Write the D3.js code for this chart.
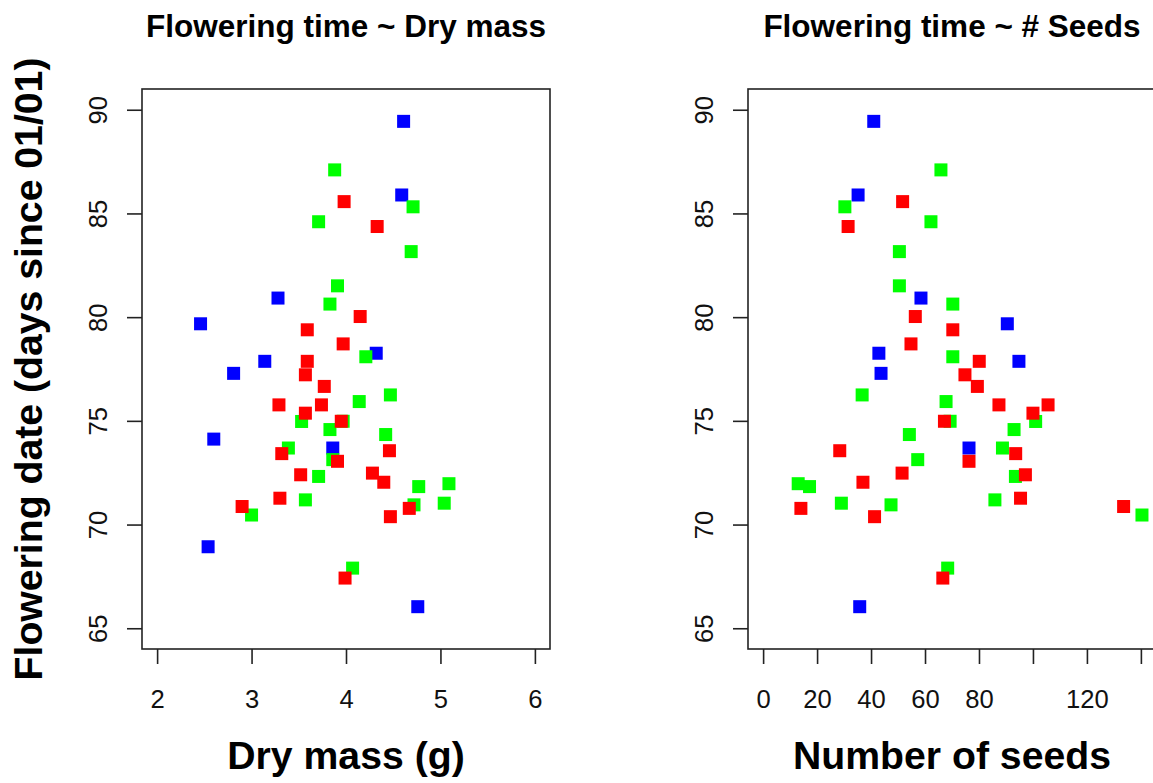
<!DOCTYPE html>
<html>
<head>
<meta charset="utf-8">
<script src="https://cdn.jsdelivr.net/npm/d3@7"></script>
<style>
  body { margin: 0; background: #fff; }
  svg { display: block; font-family: "Liberation Sans", Arial, sans-serif; }
</style>
</head>
<body>
<div id="chart"></div>
<script>
// Data (one entry per plant)
const groups = [
    'blue', 'blue', 'blue', 'blue', 'blue', 'blue', 'blue', 'blue', 'blue', 'blue', 'blue',
    'green', 'green', 'green', 'green', 'green', 'green', 'green', 'green', 'green', 'green', 'green', 'green',
    'green', 'green', 'green', 'green', 'green', 'green', 'green', 'green', 'green', 'green', 'green',
    'red', 'red', 'red', 'red', 'red', 'red', 'red', 'red', 'red', 'red', 'red', 'red',
    'red', 'red', 'red', 'red', 'red', 'red', 'red', 'red', 'red', 'red', 'red'
];
const dryMass = [
    4.61, 4.59, 3.28, 2.46, 4.32, 3.14, 2.81, 2.60, 3.86, 2.54, 4.76,
    3.88, 4.71, 3.71, 4.69, 3.91, 3.83, 4.21, 4.47, 4.14, 3.53, 3.97, 3.83,
    4.42, 3.39, 3.86, 3.71, 4.77, 5.09, 3.57, 4.72, 5.04, 3.00, 4.07,
    3.98, 4.33, 4.15, 3.59, 3.97, 3.59, 3.57, 3.77, 3.29, 3.74, 3.57, 3.95,
    3.32, 3.91, 4.46, 3.52, 4.28, 4.40, 3.30, 2.90, 4.67, 4.47, 3.99
];
// two blue plants lie beyond the visible right edge of the seeds panel
const seeds = [
    41.0, 35.2, 58.5, 90.5, 42.9, 94.8, 43.7, 150, 76.3, 155, 35.8,
    65.9, 30.3, 62.2, 50.5, 50.5, 70.3, 70.3, 36.7, 67.8, 101.0, 69.3, 93.0,
    54.2, 88.7, 57.3, 93.5, 17.2, 13.0, 85.9, 47.4, 29.0, 140.4, 68.4,
    51.7, 31.5, 56.4, 70.3, 54.8, 80.1, 74.8, 79.4, 87.4, 105.6, 100.0, 67.2,
    93.6, 76.3, 28.4, 97.2, 51.5, 37.0, 95.4, 133.6, 14.0, 41.3, 66.6
];
const floweringDate = [
    89.44, 85.89, 80.92, 79.68, 78.26, 77.87, 77.29, 74.12, 73.69, 68.93, 66.04,
    87.10, 85.32, 84.60, 83.16, 81.51, 80.63, 78.09, 76.25, 75.93, 74.97, 74.98, 74.58,
    74.34, 73.69, 73.13, 72.32, 71.83, 71.97, 71.19, 70.95, 71.03, 70.46, 67.90,
    85.57, 84.37, 80.03, 79.39, 78.71, 77.87, 77.22, 76.66, 75.77, 75.77, 75.37, 74.98,
    73.42, 73.05, 73.56, 72.40, 72.48, 72.04, 71.27, 70.87, 70.78, 70.38, 67.42
];

const yTicks = [65, 70, 75, 80, 85, 90];
const massTicks = [2, 3, 4, 5, 6];
const massTickLabels = ['2', '3', '4', '5', '6'];
const seedTicks = [0, 20, 40, 60, 80, 100, 120, 140];
const seedTickLabels = ['0', '20', '40', '60', '80', '', '120', ''];

const W = 1153, H = 783;
const base = 25.6;

const svg = d3.select('#chart').append('svg')
    .attr('width', W)
    .attr('height', H);
svg.append('rect').attr('width', W).attr('height', H).attr('fill', '#fff');

const color = d3.scaleOrdinal()
    .domain(['blue', 'green', 'red'])
    .range(['#0000FF', '#00FF00', '#FF0000']);

const plotTop = 89, plotBottom = 649;
// R style axis range: limits extended by 4% on each side
const pad = (lo, hi) => [lo - 0.04 * (hi - lo), hi + 0.04 * (hi - lo)];

const y = d3.scaleLinear().domain(pad(65, 90)).range([plotBottom, plotTop]);

const points = floweringDate.map((f, i) => ({
    group: groups[i], mass: dryMass[i], seeds: seeds[i], date: f
}));

function panel(id, left, right, x, ticks, tickLabels, title, xlab, xkey) {
    const g = svg.append('g');
    const cx = (left + right) / 2;

    svg.append('clipPath').attr('id', id)
        .append('rect')
        .attr('x', left).attr('y', plotTop)
        .attr('width', right - left).attr('height', plotBottom - plotTop);

    // points
    g.append('g').attr('clip-path', `url(#${id})`)
        .selectAll('rect')
        .data(points)
        .join('rect')
        .attr('x', d => x(d[xkey]) - 6.5)
        .attr('y', d => y(d.date) - 6.5)
        .attr('width', 13)
        .attr('height', 13)
        .attr('fill', d => color(d.group));

    // box
    g.append('rect')
        .attr('x', left).attr('y', plotTop)
        .attr('width', right - left).attr('height', plotBottom - plotTop)
        .attr('fill', 'none').attr('stroke', '#222').attr('stroke-width', 1.6);

    // x axis
    const xa = g.append('g').attr('transform', `translate(0,${plotBottom})`)
        .call(d3.axisBottom(x).tickValues(ticks).tickSize(15).tickPadding(26)
            .tickFormat((d, i) => tickLabels[i]));
    xa.select('.domain').remove();
    xa.selectAll('line').attr('stroke', '#222').attr('stroke-width', 1.6);
    xa.selectAll('text').attr('font-size', base).attr('fill', '#111')
        .attr('font-family', '"Liberation Sans", Arial, sans-serif');

    // y axis, labels parallel to the axis like R's default
    const ya = g.append('g').attr('transform', `translate(${left},0)`)
        .call(d3.axisLeft(y).tickValues(yTicks).tickSize(15));
    ya.select('.domain').remove();
    ya.selectAll('line').attr('stroke', '#222').attr('stroke-width', 1.6);
    ya.selectAll('text')
        .attr('x', null).attr('dy', null)
        .attr('text-anchor', 'middle')
        .attr('transform', 'translate(-35,0) rotate(-90)')
        .attr('font-size', base).attr('fill', '#111')
        .attr('font-family', '"Liberation Sans", Arial, sans-serif');

    // titles
    g.append('text')
        .attr('x', cx).attr('y', 37)
        .attr('text-anchor', 'middle')
        .attr('font-weight', 'bold')
        .attr('font-size', 31.5)
        .text(title);

    g.append('text')
        .attr('x', cx).attr('y', 769)
        .attr('text-anchor', 'middle')
        .attr('font-weight', 'bold')
        .attr('font-size', 39.2)
        .text(xlab);
}

const xMass = d3.scaleLinear().domain(pad(2, 6)).range([142, 550]);
const xSeeds = d3.scaleLinear().domain(pad(0, 140)).range([748, 1156]);

panel('clipMass', 142, 550, xMass, massTicks, massTickLabels,
    'Flowering time ~ Dry mass', 'Dry mass (g)', 'mass');
panel('clipSeeds', 748, 1156, xSeeds, seedTicks, seedTickLabels,
    'Flowering time ~ # Seeds', 'Number of seeds', 'seeds');

// shared y label
svg.append('text')
    .attr('transform', `translate(42,${(plotTop + plotBottom) / 2}) rotate(-90)`)
    .attr('text-anchor', 'middle')
    .attr('font-weight', 'bold')
    .attr('font-size', 39.2)
    .text('Flowering date (days since 01/01)');
</script>
</body>
</html>
